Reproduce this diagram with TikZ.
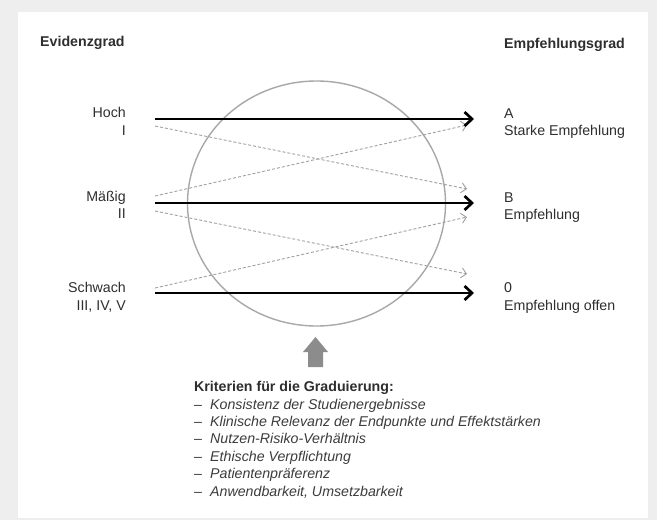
\documentclass[tikz,border=0pt]{standalone}
\usepackage{fontspec}
\setmainfont{Liberation Sans}
\usetikzlibrary{arrows.meta}
\definecolor{framegray}{HTML}{EEEEEE}
\definecolor{txtgray}{HTML}{2E2E2E}
\definecolor{itemgray}{HTML}{3C3C3C}
\definecolor{ringgray}{HTML}{A8A8A8}
\definecolor{dashgray}{HTML}{A0A0A0}
\definecolor{blockgray}{HTML}{8C8C8C}
\tikzset{
  txt/.style={inner sep=0pt, text=txtgray, align=left,
    font=\fontsize{14.2}{17.5}\selectfont},
  lefttxt/.style={txt, align=right, anchor=base east},
  righttxt/.style={txt, anchor=base west},
  headtxt/.style={txt, anchor=base west, font=\fontsize{14.2}{17.5}\selectfont\bfseries},
  mainarrow/.style={line width=2.7pt, black,
    -{Straight Barb[length=7.5pt,width=14pt]}},
  sidearrow/.style={line width=0.9pt, dashgray, dash pattern=on 3pt off 2pt,
    -{Straight Barb[length=5pt,width=10pt]}},
  ringline/.style={line width=1.4pt, ringgray},
}
\begin{document}
\begin{tikzpicture}[x=1pt,y=-1pt]
  % page and white panel
  \fill[framegray] (0,0) rectangle (657,520);
  \fill[white] (18,12) rectangle (648,518);
  \useasboundingbox (0,0) rectangle (657,520);

  % column headings
  \node[headtxt] (evid) at (40,46) {Evidenzgrad};
  \node[headtxt] (empf) at (504,48) {Empfehlungsgrad};

  % evidence levels (anchored at the baseline of the last line)
  \node[lefttxt] (hoch) at (126,135) {Hoch\\I};
  \node[lefttxt] (massig) at (126,218.5) {Mäßig\\II};
  \node[lefttxt] (schwach) at (126,310) {Schwach\\III, IV, V};

  % recommendation grades
  \node[righttxt] (gA) at (504,135.5) {A\\Starke Empfehlung};
  \node[righttxt] (gB) at (504,219.5) {B\\Empfehlung};
  \node[righttxt] (g0) at (504,310) {0\\Empfehlung offen};

  % consensus circle
  \draw[ringline] (316.5,203.5) ellipse [x radius=129pt, y radius=122.5pt];

  % arrow end points
  \coordinate (hA) at (155,119);   \coordinate (tA) at (474,119);
  \coordinate (hB) at (155,203);   \coordinate (tB) at (474,203);
  \coordinate (h0) at (155,293);   \coordinate (t0) at (474,293);
  \coordinate (dI) at (155,126);   \coordinate (eIB) at (467,189);
  \coordinate (dM) at (155,196);   \coordinate (eMA) at (467,125);
  \coordinate (dII) at (155,211);  \coordinate (eII0) at (467,274);
  \coordinate (dS) at (155,288);   \coordinate (eSB) at (467,217);

  % shifted gradings
  \draw[sidearrow] (dI) -- (eIB);
  \draw[sidearrow] (dM) -- (eMA);
  \draw[sidearrow] (dII) -- (eII0);
  \draw[sidearrow] (dS) -- (eSB);

  % direct gradings
  \draw[mainarrow] (hA) -- (tA);
  \draw[mainarrow] (hB) -- (tB);
  \draw[mainarrow] (h0) -- (t0);

  % upward block arrow
  \fill[blockgray] (308,367) -- (308,352) -- (303,352) -- (315.5,337)
    -- (328,352) -- (323,352) -- (323,367) -- cycle;

  % grading criteria
  \node[txt, anchor=base west, text=itemgray,
        font=\fontsize{14.2}{17.4}\selectfont] (krit) at (194,496) {%
    \textbf{\color{txtgray}Kriterien für die Graduierung:}\\
    \makebox[16pt][l]{–}\textit{Konsistenz der Studienergebnisse}\\
    \makebox[16pt][l]{–}\textit{Klinische Relevanz der Endpunkte und Effektstärken}\\
    \makebox[16pt][l]{–}\textit{Nutzen-Risiko-Verhältnis}\\
    \makebox[16pt][l]{–}\textit{Ethische Verpflichtung}\\
    \makebox[16pt][l]{–}\textit{Patientenpräferenz}\\
    \makebox[16pt][l]{–}\textit{Anwendbarkeit, Umsetzbarkeit}};
\end{tikzpicture}
\end{document}
